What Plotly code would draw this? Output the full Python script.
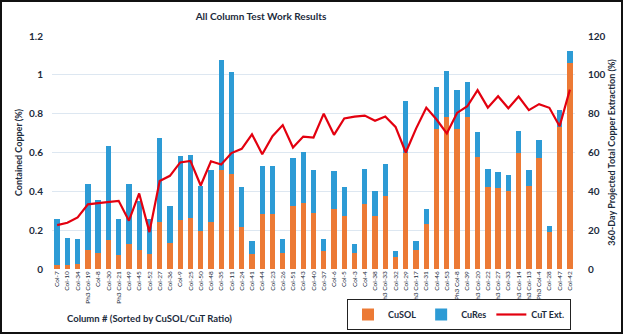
import plotly.graph_objects as go

categories = ["Col-7", "Col-10", "Col-34", "Ph3 Col-19", "Col-8", "Col-30", "Ph3 Col-21", "Col-49",
              "Col-45", "Col-52", "Col-27", "Col-36", "Col-9", "Col-25", "Col-50", "Col-48", "Col-35",
              "Col-11", "Col-24", "Col-41", "Col-44", "Col-23", "Col-26", "Col-51", "Col-43", "Col-40",
              "Col-37", "Col-6", "Col-5", "Col-3", "Col-4", "Col-38", "Ph3 Col-33", "Col-32", "Col-29",
              "Ph3 Col-17", "Col-31", "Col-46", "Col-53", "Ph3 Col-8", "Col-39", "Ph3 Col-20", "Col-22",
              "Ph3 Col-27", "Col-33", "Ph3 Col-14", "Ph3 Col-13", "Ph3 Col-4", "Col-28", "Col-47", "Col-42"]

total = [0.255, 0.16, 0.156, 0.437, 0.353, 0.631, 0.257, 0.44, 0.35, 0.257, 0.677, 0.326, 0.583,
         0.586, 0.43, 0.511, 1.075, 1.013, 0.423, 0.146, 0.53, 0.53, 0.153, 0.574, 0.605, 0.509,
         0.156, 0.506, 0.423, 0.129, 0.513, 0.403, 0.543, 0.094, 0.866, 0.142, 0.307, 0.936, 1.022,
         0.92, 0.962, 0.705, 0.514, 0.502, 0.482, 0.71, 0.509, 0.663, 0.223, 0.82, 1.121]

cusol = [0.02, 0.02, 0.024, 0.10, 0.08, 0.15, 0.074, 0.13, 0.098, 0.077, 0.24, 0.132, 0.254,
         0.264, 0.195, 0.24, 0.511, 0.489, 0.214, 0.077, 0.281, 0.285, 0.081, 0.326, 0.34, 0.291,
         0.094, 0.309, 0.271, 0.084, 0.336, 0.273, 0.377, 0.063, 0.60, 0.10, 0.231, 0.72, 0.783,
         0.72, 0.782, 0.576, 0.423, 0.415, 0.40, 0.597, 0.427, 0.571, 0.192, 0.729, 1.063]

cures = [round(t - s, 3) for t, s in zip(total, cusol)]

cut_ext = [22.6, 23.8, 26.6, 33.3, 33.9, 34.5, 35.1, 24.9, 38.9, 19.0, 45.3, 48.0, 54.9, 55.7,
           43.0, 55.5, 53.8, 59.7, 61.9, 69.4, 59.1, 68.4, 74.1, 62.6, 68.2, 67.7, 80.0, 69.1,
           77.5, 78.5, 79.0, 76.3, 78.5, 73.2, 60.0, 72.3, 83.1, 77.0, 69.8, 80.4, 83.8, 92.1,
           83.1, 89.0, 82.8, 88.8, 81.8, 84.9, 83.0, 73.5, 92.4]

FONT = "Lato"
TXT = "#1c2b3c"

fig = go.Figure()
fig.add_trace(go.Bar(x=categories, y=cusol, name="CuSOL", marker=dict(color="#EC7A35", line_width=0)))
fig.add_trace(go.Bar(x=categories, y=cures, name="CuRes", marker=dict(color="#2D9BD5", line_width=0)))
fig.add_trace(go.Scatter(x=categories, y=cut_ext, name="CuT Ext.", mode="lines",
                         line=dict(color="#E3000F", width=2.2), yaxis="y2"))

L, R, T, B = 52, 49, 36, 66
W, H = 624, 335
pw = W - L - R
ph = H - T - B

fig.update_layout(
    width=W, height=H,
    margin=dict(l=L, r=R, t=T, b=B, autoexpand=False),
    paper_bgcolor="white", plot_bgcolor="white",
    barmode="stack", bargap=0.48,
    font=dict(family=FONT, color=TXT, size=10),
    title=dict(text="<b>All Column Test Work Results</b>", x=261 / W, xanchor="center",
               y=1 - 16 / H, yanchor="middle", font=dict(size=10, color=TXT, family=FONT)),
    xaxis=dict(tickangle=-90, tickfont=dict(size=6.5, family=FONT, color=TXT), showgrid=False,
               showline=False, ticks="", automargin=False),
    yaxis=dict(range=[0, 1.2], dtick=0.2, showgrid=True, gridcolor="#dde7f1", gridwidth=1,
               zeroline=False, showline=False, ticks="", ticklabelstandoff=8,
               tickfont=dict(size=10, color=TXT, weight="bold"), automargin=False,
               title=dict(text="<b>Contained Copper (%)</b>", font=dict(size=9, color=TXT), standoff=4)),
    yaxis2=dict(range=[0, 120], dtick=20, overlaying="y", side="right", showgrid=False,
                zeroline=False, showline=False, ticks="", ticklabelstandoff=12,
                tickfont=dict(size=10, color=TXT, weight="bold"), automargin=False,
                title=dict(text="<b>360-Day Projected Total Copper Extraction (%)</b>",
                           font=dict(size=9, color=TXT), standoff=4)),
    legend=dict(orientation="h", traceorder="normal", x=(347 - L) / pw, xanchor="left",
                y=(H - B - 299) / ph, yanchor="top",
                bordercolor="#222", borderwidth=1, bgcolor="white",
                font=dict(size=9, color=TXT, weight="bold"), itemwidth=30, tracegroupgap=0),
    showlegend=True,
)

fig.add_annotation(text="<b>Column # (Sorted by CuSOL/CuT Ratio)</b>", xref="paper", yref="paper",
                   x=(65 - L) / pw, xanchor="left", y=(H - B - 318) / ph, yanchor="middle",
                   showarrow=False, font=dict(size=9.5, color=TXT, family=FONT))

fig.add_shape(type="rect", xref="paper", yref="paper",
              x0=(1 - L) / pw, x1=(W - 2 - L) / pw,
              y0=(H - B - (H - 2)) / ph, y1=(H - B - 1) / ph,
              line=dict(color="#111", width=2), layer="below")

fig.write_html("out.html")
